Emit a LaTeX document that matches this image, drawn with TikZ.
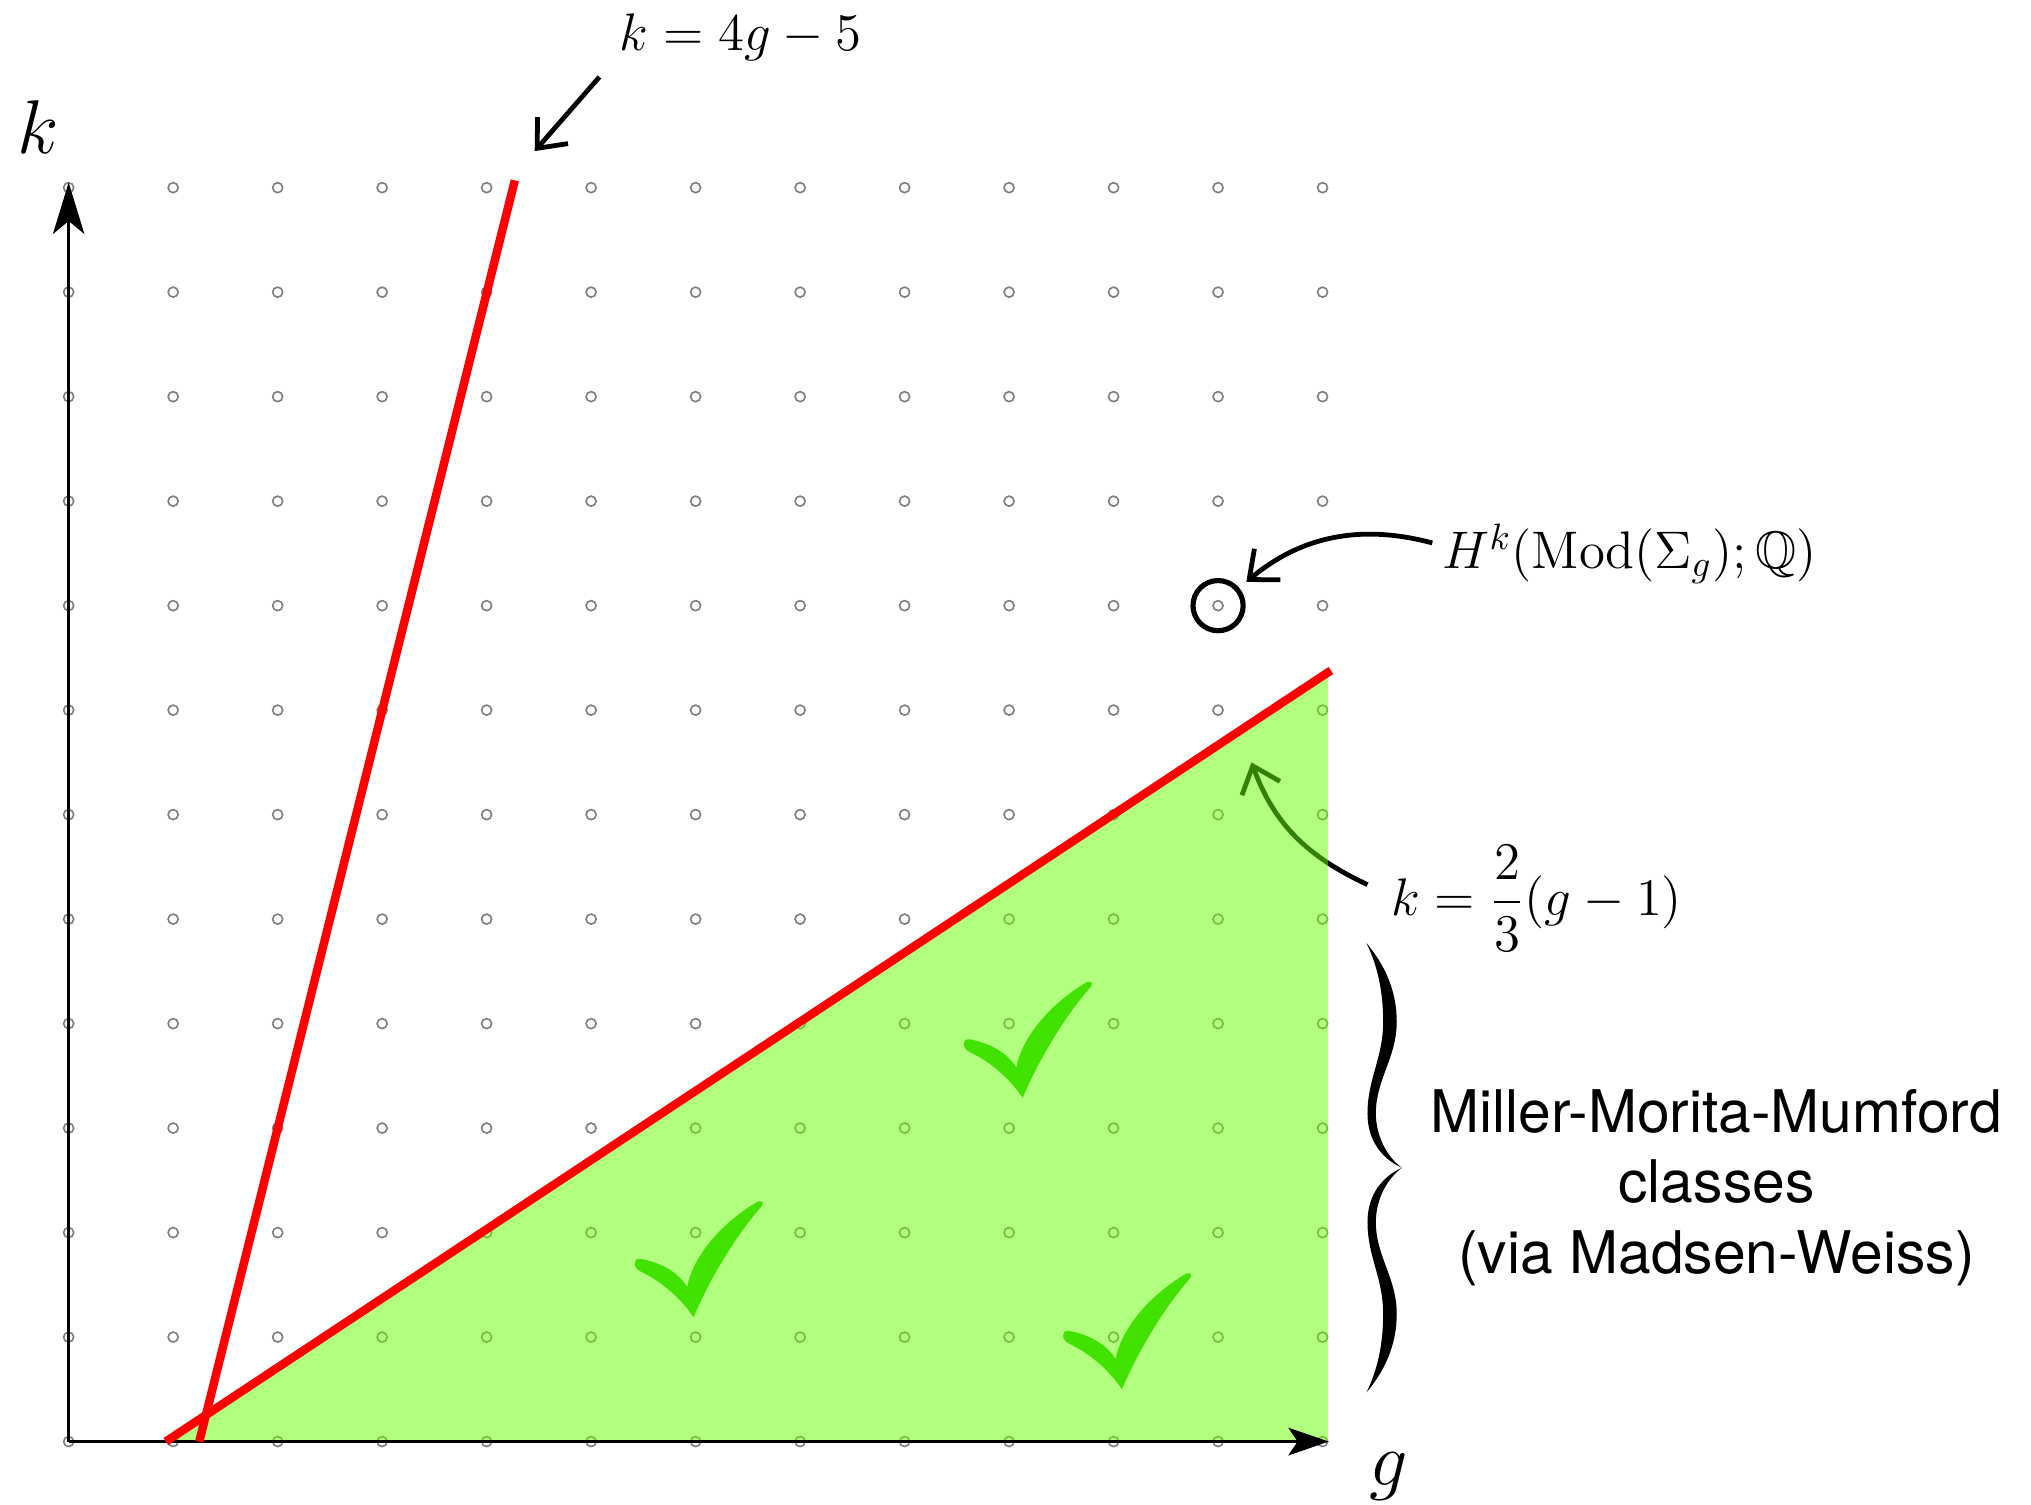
\documentclass[tikz,border=0pt]{standalone}
\usepackage{amsmath, amssymb}
\usepackage{fontspec}
\newfontfamily\heros{TeX Gyre Heros}
\usepackage{tikz}
\usetikzlibrary{arrows.meta, positioning, calc}
\usepackage{xcolor}
\definecolor{regiongreen}{RGB}{102,255,0}
\definecolor{tickgreen}{RGB}{66,226,0}
\tikzset{
  gridpt/.style={draw=black!50, line width=0.45pt},
  axisline/.style={line width=0.9pt},
  redline/.style={red, line width=2.3pt},
  callout/.style={line width=1.3pt, -{Straight Barb[length=6.5pt, width=11pt]}},
  pics/checkmark/.style={code={
    \fill[tickgreen] (0,0) .. controls (-0.12,0.18) and (-0.30,0.34) .. (-0.51,0.44)
      .. controls (-0.58,0.47) and (-0.58,0.57) .. (-0.51,0.56)
      .. controls (-0.30,0.52) and (-0.15,0.43) .. (-0.06,0.29)
      .. controls (-0.02,0.53) and (0.21,0.87) .. (0.62,1.11)
      .. controls (0.67,1.12) and (0.67,1.08) .. (0.65,1.06)
      .. controls (0.43,0.81) and (0.18,0.42) .. (0,0) -- cycle;
  }}
}

\begin{document}
\begin{tikzpicture}
      \useasboundingbox (-0.657,-0.606) rectangle (18.78,13.796);

      % lattice of (g,k)
      \foreach \x in {0,...,12}
        \foreach \y in {0,...,12}
          \draw[gridpt] (\x,\y) circle (0.048);

      % arrow to the stable line (lies under the region)
      \coordinate (slopefrom) at (12.43,5.33);
      \coordinate (slopeto) at (11.32,6.50);
      \draw[callout] (slopefrom) to[out=155, in=-70] (slopeto);

      % stable range
      \fill[regiongreen, fill opacity=0.5] (0.93,0) -- (12.05,7.36) -- (12.05,0) -- cycle;

      % axes
      \coordinate (O) at (0,0);
      \coordinate (kend) at (0,12.05);
      \coordinate (gend) at (12.06,0);
      \draw[axisline, -{Stealth[length=14pt, width=8.5pt, inset=3.5pt]}] (O) -- (kend);
      \draw[axisline, -{Stealth[length=11pt, width=7.5pt, inset=2.5pt]}] (O) -- (gend);
      \node (klbl) at (-0.29,12.58) {\huge $k$};
      \node (glbl) at (12.63,-0.33) {\fontsize{22}{26}\selectfont $g$};

      % the two lines
      \draw[redline] (1.25,0) -- (4.27,12.07);
      \draw[redline] (0.93,0) -- (12.08,7.38);

      % ticks
      \pic at (9.13,3.29) {checkmark};
      \pic at (5.98,1.19) {checkmark};
      \pic at (10.08,0.50) {checkmark};

      % one group
      \node[circle, draw, line width=1.4pt, minimum size=0.48cm, inner sep=0pt] (hkpt) at (11,8) {};

      % labels
      \node (lbl4g) at (6.43,13.44) {\Large $k = 4g-5$};
      \node (lblH) at (14.94,8.5) {\Large $H^k(\mathrm{Mod}(\Sigma_g);\mathbb{Q})$};
      \node (lblslope) at (14.05,5.2) {\Large $k = \dfrac{2}{3}(g-1)$};
      \node[align=center, font=\heros\fontsize{16}{19.1}\selectfont] (lblmmm) at (15.77,2.43)
        {Miller-Morita-Mumford\\classes\\(via Madsen-Weiss)};

      \coordinate (fourgfrom) at (5.08,13.06);
      \coordinate (fourgto) at (4.46,12.35);
      \draw[callout] (fourgfrom) -- (fourgto);
      \coordinate (hkfrom) at (13.05,8.6);
      \draw[callout, shorten >=2.5pt] (hkfrom) to[out=165, in=40] (hkpt);

      % brace
      \foreach \s in {1,-1}
        \fill[shift={(12.42,2.62)}, yscale=\s] (0,2.15) .. controls (0.17,1.95) and (0.29,1.70) .. (0.29,1.40)
          .. controls (0.29,1.05) and (0.09,0.85) .. (0.09,0.52)
          .. controls (0.09,0.30) and (0.20,0.10) .. (0.34,0)
          .. controls (0.16,0.08) and (0.01,0.25) .. (0.01,0.52)
          .. controls (0.01,0.85) and (0.16,1.05) .. (0.16,1.40)
          .. controls (0.16,1.70) and (0.10,1.95) .. (0,2.15) -- cycle;
    \end{tikzpicture}
\end{document}
